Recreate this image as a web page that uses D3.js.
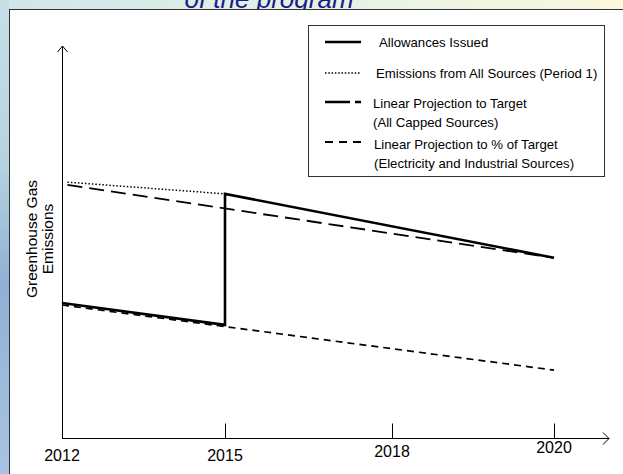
<!DOCTYPE html>
<html>
<head>
<meta charset="utf-8">
<script src="https://cdn.jsdelivr.net/npm/d3@7"></script>
<style>
  html, body { margin: 0; padding: 0; background: #fff; }
  svg { display: block; font-family: Arial, "Liberation Sans", sans-serif; }
</style>
</head>
<body>
<svg id="chart" width="623" height="474"></svg>
<script>
// ---- data ----
const tickYears = [2012, 2015, 2018, 2020];
const tickLabels = ["2012", "2015", "2018", "2020"];

// Allowances Issued (solid): drops through period 1, jumps at 2015, declines to 2020
const allowancesYears  = [2012, 2015, 2015, 2020];
const allowancesValues = [34.6, 29.0, 62.6, 46.2];

// Emissions from All Sources (Period 1) (dotted)
const emissionsYears  = [2012.1, 2015];
const emissionsValues = [65.6, 62.6];

// Linear Projection to Target (All Capped Sources) (long dash)
const targetYears  = [2012.1, 2020];
const targetValues = [64.9, 46.2];

// Linear Projection to % of Target (Electricity and Industrial Sources) (short dash)
const pctTargetYears  = [2012, 2020];
const pctTargetValues = [34.1, 17.4];

const legendLabels = [
  ["Allowances Issued"],
  ["Emissions from All Sources (Period 1)"],
  ["Linear Projection to Target", "(All Capped Sources)"],
  ["Linear Projection to % of Target", "(Electricity and Industrial Sources)"]
];
const titleText = "of the program";
const yTitle = ["Greenhouse Gas", "Emissions"];

// ---- drawing ----
const svg = d3.select("#chart");
const defs = svg.append("defs");

// slide background: top strip gradient + left strip sky
const gTop = defs.append("linearGradient").attr("id", "gTop").attr("x1", "0").attr("x2", "1").attr("y1", "0").attr("y2", "0");
gTop.append("stop").attr("offset", "0").attr("stop-color", "#cfe6ea");
gTop.append("stop").attr("offset", "0.45").attr("stop-color", "#e3f1e6");
gTop.append("stop").attr("offset", "1").attr("stop-color", "#fbf8de");
const gLeft = defs.append("linearGradient").attr("id", "gLeft").attr("x1", "0").attr("x2", "0").attr("y1", "0").attr("y2", "1");
gLeft.append("stop").attr("offset", "0").attr("stop-color", "#c6e0e6");
gLeft.append("stop").attr("offset", "0.35").attr("stop-color", "#b5d2e0");
gLeft.append("stop").attr("offset", "0.6").attr("stop-color", "#8fb0d4");
gLeft.append("stop").attr("offset", "1").attr("stop-color", "#a9c4e2");

svg.append("rect").attr("x", 0).attr("y", 0).attr("width", 623).attr("height", 474).attr("fill", "url(#gLeft)");
svg.append("rect").attr("x", 9).attr("y", 0).attr("width", 614).attr("height", 12).attr("fill", "url(#gTop)");

svg.append("text")
  .attr("x", 269).attr("y", 8)
  .attr("text-anchor", "middle")
  .attr("font-size", 26).attr("font-style", "italic")
  .attr("fill", "#1a1a8a")
  .text(titleText);

// white panel
svg.append("rect").attr("x", 9.5).attr("y", 9.5).attr("width", 620).attr("height", 470)
  .attr("fill", "#fff").attr("stroke", "#333").attr("stroke-width", 1);

// scales
const x = d3.scaleLinear().domain(tickYears).range([62, 225, 392, 554]);
const y = d3.scaleLinear().domain([0, 100]).range([438, 48]);

// axes
const axisG = svg.append("g").attr("stroke", "#000").attr("fill", "none").attr("stroke-width", 1);
axisG.append("line").attr("x1", x(2012) + 0.5).attr("x2", x(2012) + 0.5).attr("y1", y(0)).attr("y2", 46);
axisG.append("path").attr("d", `M${x(2012) - 4.5},${52} L${x(2012) + 0.5},${46} L${x(2012) + 5.5},${52}`);
axisG.append("line").attr("x1", x(2012)).attr("x2", 609).attr("y1", y(0) + 0.5).attr("y2", y(0) + 0.5);
axisG.append("path").attr("d", `M603,${y(0) - 5.5} L609,${y(0) + 0.5} L603,${y(0) + 6.5}`);

// tick marks (except at origin)
const xAxis = d3.axisTop(x).tickValues(tickYears.slice(1)).tickSize(15).tickFormat("");
const axG = svg.append("g").attr("transform", `translate(0,${y(0) + 0.5})`).call(xAxis);
axG.select(".domain").remove();
axG.selectAll(".tick line").attr("stroke", "#000");

// tick labels
const labelDy = [455, 455, 451, 447];
svg.selectAll(".xlab").data(tickYears).join("text")
  .attr("class", "xlab")
  .attr("x", d => x(d))
  .attr("y", (d, i) => labelDy[i] + 6)
  .attr("text-anchor", "middle")
  .attr("font-size", 16)
  .attr("fill", "#000")
  .text((d, i) => tickLabels[i]);

// y title
const yt = svg.append("text")
  .attr("transform", "translate(37,239) rotate(-90)")
  .attr("text-anchor", "middle").attr("font-size", 15.5).attr("fill", "#000");
yt.append("tspan").attr("x", 0).attr("dy", "0").text(yTitle[0]);
yt.append("tspan").attr("x", 0).attr("dy", "1.0em").text(yTitle[1]);

// lines
const line = d3.line().x(d => x(d[0])).y(d => y(d[1]));
const zip = (a, b) => a.map((v, i) => [v, b[i]]);

const styles = {
  pct:    { w: 1.7, dash: "7,5" },
  target: { w: 1.8, dash: "15,7" },
  emis:   { w: 1.5, dash: "1.5,2" },
  allow:  { w: 2.6, dash: null }
};

function drawLine(data, s) {
  svg.append("path").attr("d", line(data))
    .attr("fill", "none").attr("stroke", "#000")
    .attr("stroke-width", s.w)
    .attr("stroke-dasharray", s.dash)
    .attr("stroke-linejoin", "miter");
}
drawLine(zip(pctTargetYears, pctTargetValues), styles.pct);
drawLine(zip(targetYears, targetValues), styles.target);
drawLine(zip(emissionsYears, emissionsValues), styles.emis);
drawLine(zip(allowancesYears, allowancesValues), styles.allow);

// legend
const lg = svg.append("g");
lg.append("rect").attr("x", 308.5).attr("y", 25.5).attr("width", 296).attr("height", 151)
  .attr("fill", "#fff").attr("stroke", "#333").attr("stroke-width", 1);

const legendStyles = [
  { w: 2.4, dash: null, y: 42, ty: 42, tx: 379 },
  { w: 1.4, dash: "1.5,1.8", y: 73, ty: 73, tx: 376 },
  { w: 2.4, dash: "25,5,6,100", y: 102, ty: 103, tx: 373 },
  { w: 1.8, dash: "8,6", y: 142, ty: 144, tx: 374 }
];
legendLabels.forEach((lines, i) => {
  const s = legendStyles[i];
  lg.append("line").attr("x1", 325).attr("x2", 361).attr("y1", s.y).attr("y2", s.y)
    .attr("stroke", "#000").attr("stroke-width", s.w).attr("stroke-dasharray", s.dash);
  lines.forEach((t, j) => {
    lg.append("text").attr("x", s.tx).attr("y", s.ty + 5 + j * 19)
      .attr("font-size", 13.2).attr("fill", "#000").text(t);
  });
});
</script>
</body>
</html>
